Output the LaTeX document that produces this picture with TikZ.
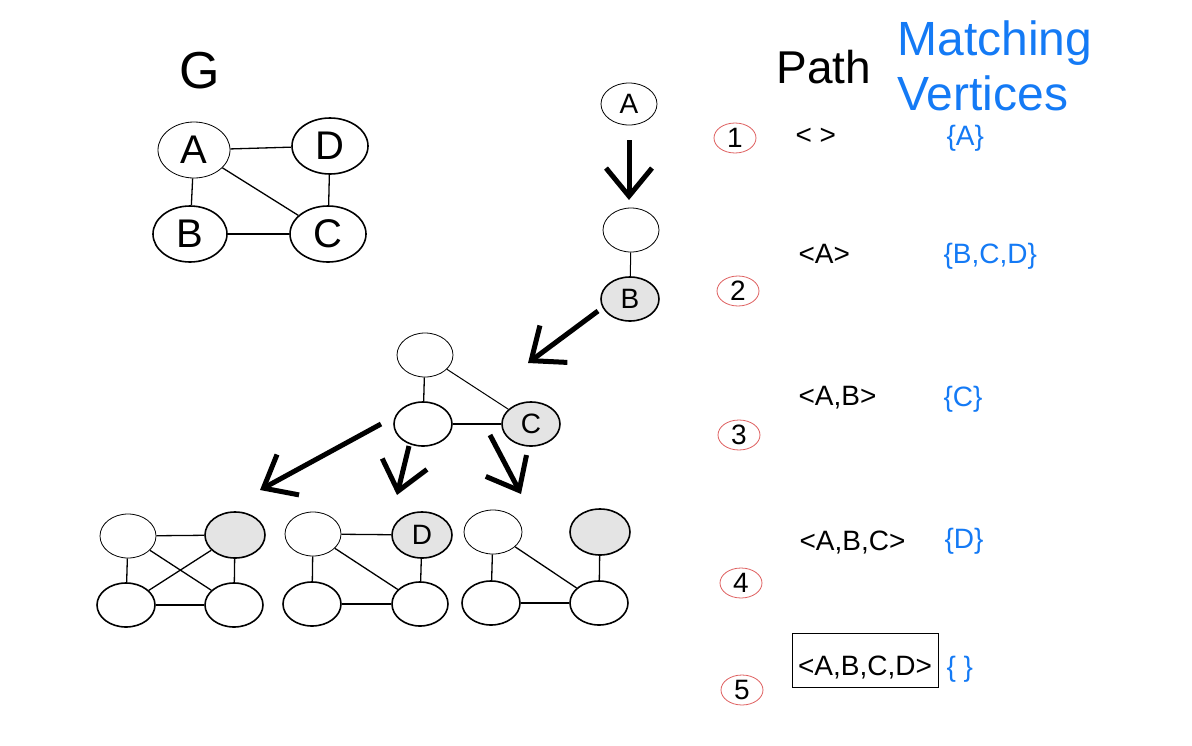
\documentclass[tikz,border=0pt]{standalone}
\usepackage{fontspec}
\setmainfont{Liberation Sans}
\usetikzlibrary{shapes.geometric,arrows.meta}
\definecolor{mblue}{RGB}{20,122,245}
\definecolor{mred}{RGB}{222,95,95}
\definecolor{mgray}{RGB}{228,228,228}
\newcommand\myfs[1]{\fontsize{#1}{#1}\selectfont}
\tikzset{
  vx/.style={ellipse,draw,inner sep=0pt,minimum width=58pt,minimum height=44pt,line width=1.6pt,font=\myfs{28}},
  vthin/.style={vx,line width=0.8pt},
  vgray/.style={vx,fill=mgray,minimum width=60pt,minimum height=46pt},
  gv/.style={vx,minimum width=74pt,minimum height=56pt,font=\myfs{40}},
  edge/.style={line width=1.3pt},
  bigarrow/.style={line width=5pt,-{Straight Barb[length=28pt,width=46pt]}},
  numnode/.style={ellipse,draw=mred,line width=0.8pt,inner sep=0pt,minimum width=42pt,minimum height=30pt,font=\myfs{28}},
  ptxt/.style={anchor=base west,font=\myfs{28}},
  mtxt/.style={anchor=base west,font=\myfs{28},text=mblue}
}
\begin{document}
\begin{tikzpicture}[x=1pt,y=-1pt]
\useasboundingbox (0,0) rectangle (1192,745);
% heading G
\node[anchor=base,font=\myfs{52}] (Gt) at (200,88) {G};
% graph G
\node[gv,line width=0.8pt,minimum width=72pt] (gA) at (194,150) {A};
\node[gv,minimum width=76pt] (gD) at (330,146) {D};
\node[gv] (gB) at (190,234) {B};
\node[gv,minimum width=76pt] (gC) at (328,234) {C};
\draw[edge] (gA) -- (gD);
\draw[edge] (gA) -- (gB);
\draw[edge] (gA) -- (gC);
\draw[edge] (gD) -- (gC);
\draw[edge] (gB) -- (gC);
% tree top
\node[vthin,minimum width=56pt,minimum height=42pt] (tA) at (629,104) {A};
\node[vthin,minimum width=56pt] (tE) at (631,230) {};
\node[vgray,minimum width=58pt,minimum height=44pt] (tB) at (630,299) {B};
\draw[edge,line width=1pt] (tE) -- (tB);
% middle graph
\node[vthin,minimum width=56pt] (m1) at (425,355) {};
\node[vx] (m2) at (423,424) {};
\node[vgray,minimum width=58pt,minimum height=44pt] (mC) at (531,424) {C};
\draw[edge] (m1) -- (m2);
\draw[edge,line width=1pt] (m1) -- (mC);
\draw[edge] (m2) -- (mC);
% bottom graph 1
\node[vthin,minimum width=56pt] (p1) at (128,536) {};
\node[vgray] (p2) at (235,535) {};
\node[vx] (p3) at (126,605) {};
\node[vx] (p4) at (234,605) {};
\draw[edge] (p1) -- (p2);
\draw[edge] (p1) -- (p3);
\draw[edge] (p1) -- (p4);
\draw[edge] (p2) -- (p3);
\draw[edge] (p2) -- (p4);
\draw[edge] (p3) -- (p4);
% bottom graph 2
\node[vthin,minimum width=56pt] (q1) at (313,534) {};
\node[vgray] (q2) at (422,535) {D};
\node[vx] (q3) at (312,604) {};
\node[vx,minimum width=56pt] (q4) at (420,604) {};
\draw[edge] (q1) -- (q2);
\draw[edge] (q1) -- (q3);
\draw[edge] (q1) -- (q4);
\draw[edge] (q2) -- (q4);
\draw[edge] (q3) -- (q4);
% bottom graph 3
\node[vthin] (r1) at (493,532) {};
\node[vgray] (r2) at (600,532) {};
\node[vx] (r3) at (491,603) {};
\node[vx] (r4) at (599,603) {};
\draw[edge] (r1) -- (r3);
\draw[edge] (r1) -- (r4);
\draw[edge] (r2) -- (r4);
\draw[edge] (r3) -- (r4);
% arrows
\coordinate (a1s) at (629,140); \coordinate (a1e) at (629,200);
\coordinate (a2s) at (598,311); \coordinate (a2e) at (528,363);
\coordinate (a3s) at (381,424); \coordinate (a3e) at (260,490);
\coordinate (a4s) at (409,446); \coordinate (a4e) at (397,495);
\coordinate (a5s) at (490,435); \coordinate (a5e) at (521,494);
\draw[bigarrow] (a1s) -- (a1e);
\draw[bigarrow] (a2s) -- (a2e);
\draw[bigarrow] (a3s) -- (a3e);
\draw[bigarrow] (a4s) -- (a4e);
\draw[bigarrow] (a5s) -- (a5e);
% headings right
\node[anchor=base west,font=\myfs{46}] (hp) at (773,83) {Path};
\node[anchor=base west,font=\myfs{48},text=mblue] (hm) at (894,55) {Matching};
\node[anchor=base west,font=\myfs{48},text=mblue] (hv) at (894,110) {Vertices};
% step numbers
\node[numnode] (n1) at (735,138) {1};
\node[numnode] (n2) at (738,291) {2};
\node[numnode] (n3) at (739,435) {3};
\node[numnode] (n4) at (741,583) {4};
\node[numnode] (n5) at (742,690) {5};
% path texts
\node[ptxt] (p1t) at (792,144) {< >};
\node[ptxt] (p2t) at (795,263) {<A>};
\node[ptxt] (p3t) at (795,405) {<A,B>};
\node[ptxt] (p4t) at (796,550) {<A,B,C>};
\node[draw,line width=1pt,anchor=base,inner sep=4pt,text height=38pt,text depth=8pt,minimum width=146pt,font=\myfs{28}] (p5t) at (865,675) {<A,B,C,D>};
% matching texts
\node[mtxt] (m1t) at (943,145) {\{A\}};
\node[mtxt] (m2t) at (940,263) {\{B,C,D\}};
\node[mtxt] (m3t) at (940,406) {\{C\}};
\node[mtxt] (m4t) at (941,548) {\{D\}};
\node[mtxt] (m5t) at (943,676) {\{ \}};
\end{tikzpicture}
\end{document}
